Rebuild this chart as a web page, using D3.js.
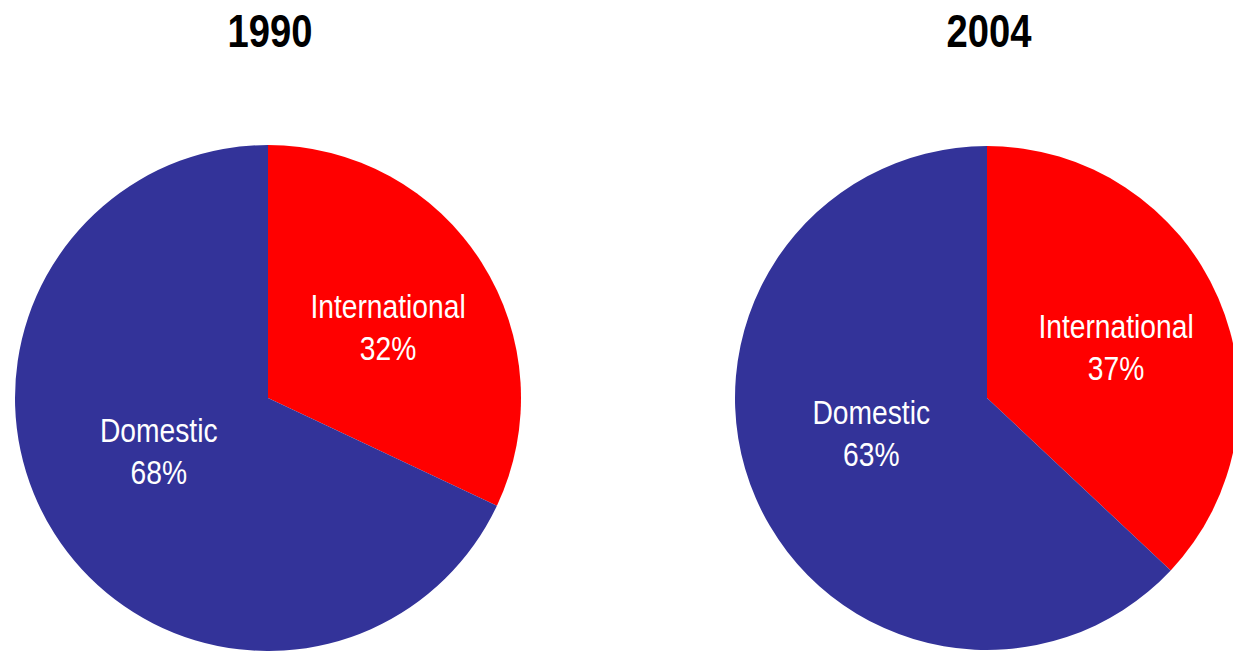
<!DOCTYPE html>
<html>
<head>
<meta charset="utf-8">
<script src="https://cdn.jsdelivr.net/npm/d3@7"></script>
<style>
  html, body { margin: 0; padding: 0; background: #ffffff; overflow: hidden; }
  svg { display: block; }
  text { font-family: "Liberation Sans", Arial, sans-serif; }
</style>
</head>
<body>
<svg id="chart" width="1233" height="651"></svg>
<script>
// Share of travel, by segment
const years = ["1990", "2004"];
const segments = ["International", "Domestic"];
const shares1990 = [32, 68];
const shares2004 = [37, 63];
const segmentColors = ["#ff0000", "#333399"];

const svg = d3.select("#chart");

// Horizontal placement of the two pies
const x = d3.scalePoint().domain(years).range([268, 987]);
const cy = 398;
const radii = { "1990": 253, "2004": 252 };
// Label placement per segment: distance (fraction of radius) and angular nudge (degrees)
const labelFactor = [0.55, 0.48];
const labelNudge = [2, 6.5];
// Narrow typeface look
const narrow = 0.83;

const pie = d3.pie().sort(null).value(d => d.value);

[shares1990, shares2004].forEach((shares, i) => {
  const year = years[i];
  const r = radii[year];
  const cx = x(year);
  const data = segments.map((s, k) => ({ name: s, value: shares[k], color: segmentColors[k], k }));
  const arcs = pie(data);
  const arc = d3.arc().innerRadius(0).outerRadius(r);

  const g = svg.append("g").attr("transform", `translate(${cx},${cy})`);

  g.selectAll("path")
    .data(arcs)
    .join("path")
    .attr("d", arc)
    .attr("fill", d => d.data.color);

  const labels = g.selectAll("text.lbl")
    .data(arcs)
    .join("text")
    .attr("class", "lbl")
    .attr("text-anchor", "middle")
    .attr("fill", "#ffffff")
    .style("font-size", "34px")
    .attr("transform", d => {
      const a = (d.startAngle + d.endAngle) / 2 + labelNudge[d.data.k] * Math.PI / 180;
      const lr = r * labelFactor[d.data.k];
      return `translate(${lr * Math.sin(a)},${-lr * Math.cos(a)}) scale(${narrow},1)`;
    });
  labels.append("tspan").attr("x", 0).attr("y", -9.5).text(d => d.data.name);
  labels.append("tspan").attr("x", 0).attr("y", 32.5).text(d => d.data.value + "%");

  svg.append("text")
    .attr("text-anchor", "middle")
    .attr("fill", "#000000")
    .attr("transform", `translate(${cx + 2},47) scale(${narrow},1)`)
    .style("font-size", "46px")
    .style("font-weight", "bold")
    .text(year);
});
</script>
</body>
</html>
